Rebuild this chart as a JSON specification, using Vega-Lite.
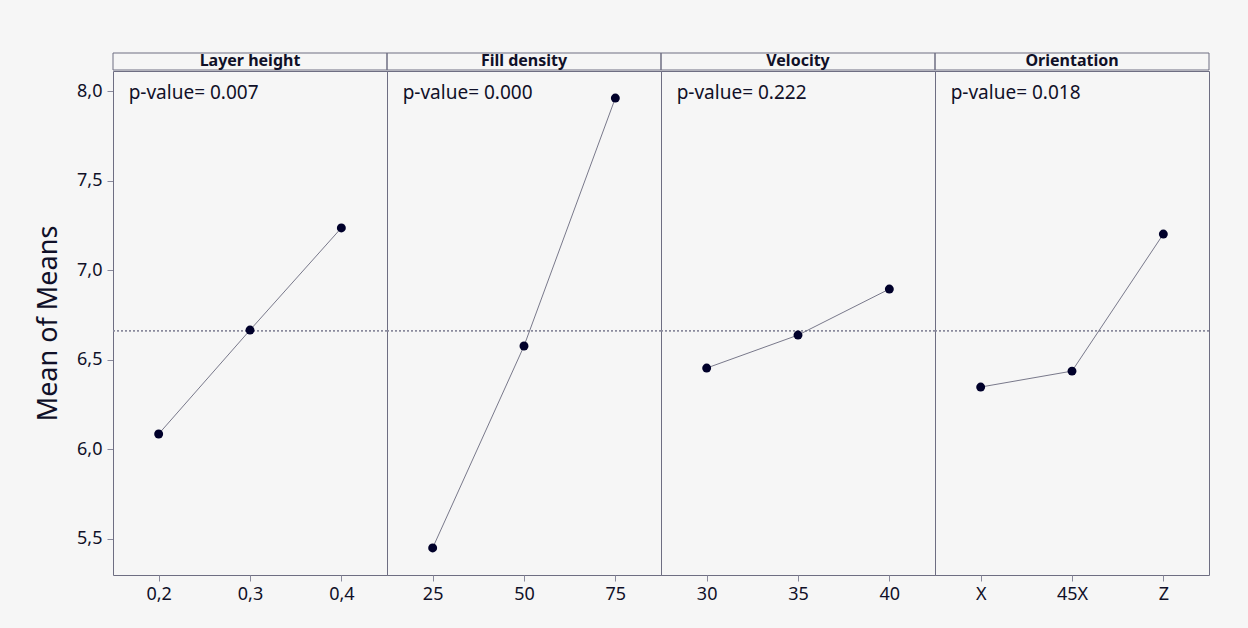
{
  "$schema": "https://vega.github.io/schema/vega-lite/v6.json",
  "background": "#f6f6f6",
  "padding": {"left": 34, "top": 52, "right": 38, "bottom": 26},
  "datasets": {
    "factors": [
      {"factor": "Layer height"},
      {"factor": "Fill density"},
      {"factor": "Velocity"},
      {"factor": "Orientation"}
    ],
    "effects": [
      {"factor": "Layer height", "level": "0,2", "mean": 6.086},
      {"factor": "Layer height", "level": "0,3", "mean": 6.666},
      {"factor": "Layer height", "level": "0,4", "mean": 7.236},
      {"factor": "Fill density", "level": "25", "mean": 5.45},
      {"factor": "Fill density", "level": "50", "mean": 6.577},
      {"factor": "Fill density", "level": "75", "mean": 7.961},
      {"factor": "Velocity", "level": "30", "mean": 6.454},
      {"factor": "Velocity", "level": "35", "mean": 6.638},
      {"factor": "Velocity", "level": "40", "mean": 6.895},
      {"factor": "Orientation", "level": "X", "mean": 6.348},
      {"factor": "Orientation", "level": "45X", "mean": 6.437},
      {"factor": "Orientation", "level": "Z", "mean": 7.202},
      {"factor": "Layer height", "level": "0,2", "pvalue": "p-value= 0.007"},
      {"factor": "Fill density", "level": "25", "pvalue": "p-value= 0.000"},
      {"factor": "Velocity", "level": "30", "pvalue": "p-value= 0.222"},
      {"factor": "Orientation", "level": "X", "pvalue": "p-value= 0.018"}
    ]
  },
  "spacing": -2,
  "vconcat": [
    {
      "data": {"name": "factors"},
      "spacing": 0,
      "bounds": "flush",
      "facet": {
        "column": {
          "field": "factor",
          "sort": ["Layer height", "Fill density", "Velocity", "Orientation"],
          "header": {"title": null, "labels": false}
        }
      },
      "spec": {
        "width": 274,
        "height": 17,
        "layer": [
          {
            "mark": {"type": "rect", "fill": null, "stroke": "#6e6e82", "strokeWidth": 1},
            "encoding": {}
          },
          {
            "mark": {"type": "text", "fontWeight": "bold", "fontSize": 16, "color": "#101028", "baseline": "middle", "dy": -1},
            "encoding": {"text": {"field": "factor"}}
          }
        ]
      }
    },
    {
      "data": {"name": "effects"},
      "spacing": 0,
      "bounds": "flush",
      "facet": {
        "column": {
          "field": "factor",
          "sort": ["Layer height", "Fill density", "Velocity", "Orientation"],
          "header": {"title": null, "labels": false}
        }
      },
      "resolve": {"scale": {"x": "independent"}},
      "spec": {
        "width": 274,
        "height": 504,
        "encoding": {
          "x": {
            "field": "level",
            "type": "ordinal",
            "sort": ["0,2", "0,3", "0,4", "25", "50", "75", "30", "35", "40", "X", "45X", "Z"],
            "scale": {"type": "point", "padding": 0.5},
            "title": null
          }
        },
        "layer": [
          {
            "mark": {"type": "rule", "color": "#8a8a9c", "strokeWidth": 1, "strokeDash": [2, 2]},
            "encoding": {"x": null, "y": {"datum": 6.662, "type": "quantitative"}}
          },
          {
            "transform": [{"filter": "isValid(datum.mean)"}],
            "mark": {"type": "line", "color": "#6a6a7e", "strokeWidth": 0.9},
            "encoding": {
              "y": {
                "field": "mean",
                "type": "quantitative",
                "scale": {"domain": [5.299, 8.112], "nice": false, "zero": false},
                "axis": {
                  "title": "Mean of Means",
                  "values": [5.5, 6, 6.5, 7, 7.5, 8],
                  "labelExpr": "replace(format(datum.value, '.1f'), '.', ',')"
                }
              }
            }
          },
          {
            "transform": [{"filter": "isValid(datum.mean)"}],
            "mark": {"type": "point", "filled": true, "color": "#00002a", "opacity": 1, "size": 80},
            "encoding": {"y": {"field": "mean", "type": "quantitative"}}
          },
          {
            "transform": [{"filter": "isValid(datum.pvalue)"}],
            "mark": {"type": "text", "align": "left", "baseline": "middle", "dx": -30, "fontSize": 19, "color": "#101028"},
            "encoding": {
              "y": {"datum": 7.99, "type": "quantitative"},
              "text": {"field": "pvalue"}
            }
          }
        ]
      }
    }
  ],
  "config": {
    "font": "Noto Sans",
    "view": {"stroke": "#6e6e82", "strokeWidth": 1},
    "axis": {
      "grid": false,
      "domain": false,
      "tickColor": "#8a8a9c",
      "tickSize": 6,
      "labelFont": "Noto Sans",
      "labelFontSize": 18,
      "labelColor": "#101028",
      "titleFont": "Noto Sans",
      "titleColor": "#101028"
    },
    "axisX": {"labelAngle": 0, "labelPadding": 4},
    "axisY": {"labelPadding": 5, "titleFontSize": 27, "titleFontWeight": "normal", "titlePadding": 14}
  }
}
